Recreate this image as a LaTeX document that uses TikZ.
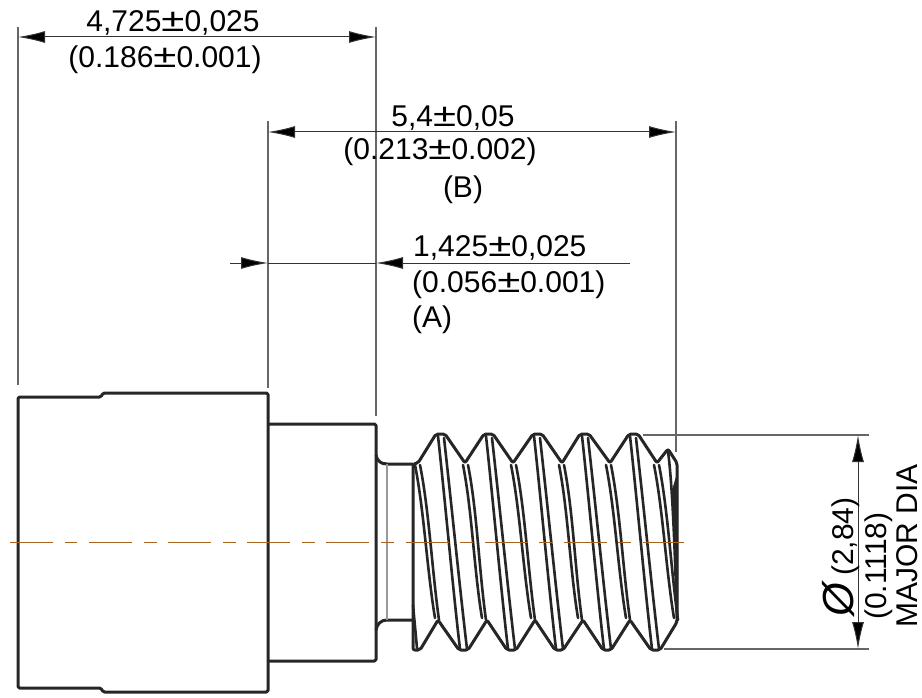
\documentclass[tikz,border=0pt]{standalone}
\usepackage{fontspec}
\setmainfont{Liberation Sans}
\usetikzlibrary{arrows.meta}
\newcommand{\pmbig}{\scalebox{1.4}[1.08]{±}}
\begin{document}
\begin{tikzpicture}[
  x=1pt,y=-1pt,
  partline/.style={line width=3pt,draw=black!85,line join=round},
  threadline/.style={line width=2.6pt,draw=black!85,line cap=round},
  extline/.style={line width=1.1pt,draw=black!60},
  dimline/.style={line width=1pt,draw=black!80},
  dimtip/.style={-{Latex[length=27pt,width=12pt,fill=black]}},
  dimboth/.style={{Latex[length=27pt,width=12pt,fill=black]}-{Latex[length=27pt,width=12pt,fill=black]}},
  dimlabel/.style={font=\fontsize{30}{33}\selectfont,inner sep=0pt,anchor=base},
  ]
  \useasboundingbox (0,0) rectangle (922,698);

  % body and neck
  \draw[partline,rounded corners=1.5pt]
    (101,397) -- (18,397) -- (18,688) -- (101,688) -- (103,692) -- (268,692)
    -- (268,393) -- (103,393) -- cycle;
  \draw[partline,rounded corners=1.5pt]
    (268,424) -- (376,424) -- (376,661) -- (268,661);
  \draw[partline]
    (376,455) .. controls (377,461) and (381,464) .. (387,464) -- (413,464);
  \draw[partline]
    (376,630) .. controls (377,624) and (381,620) .. (387,620) -- (413,620);
  \draw[extline,draw=black!40] (387,464) -- (387,620);

  % thread outline
  \draw[partline,rounded corners=2pt]
    (413,464) -- (413,650) -- (420,650) -- (438,620) -- (459,650) -- (468,650)
    -- (487,620) -- (507,650) -- (516,650) -- (535,620) -- (555,650) -- (563,650)
    -- (583,620) -- (603,650) -- (611,650) -- (630,620) -- (651,650) -- (660,650)
    -- (677,622) -- (677,463) -- (668,449) -- (657,463)
    -- (638,434) -- (629,434) -- (610,463)
    -- (589,434) -- (580,434) -- (562,463)
    -- (542,434) -- (533,434) -- (513,463)
    -- (493,434) -- (484,434) -- (465,463)
    -- (445,434) -- (436,434) -- (418,463) -- cycle;

  % thread turns
  \foreach \cx/\bx in {438/460,486/508,534/556,582/604,630/652}
  {
    \draw[threadline] (\cx,436) .. controls (\cx+7,500) and (\bx-7,590) .. (\bx,649);
    \draw[threadline] (\cx+6,438) .. controls (\cx+13,500) and (\bx,590) .. (\bx+7,649);
  }
  \foreach \rx/\sx in {415/435,463/482,511/531,559/578,606/626,654/674}
  {
    \draw[threadline] (\rx,465) .. controls (\rx+9,510) and (\sx-8,570) .. (\sx,618);
    \draw[threadline] (\rx+5,465) .. controls (\rx+14,510) and (\sx-3,570) .. (\sx+4,620);
  }
  \draw[threadline] (668,451) .. controls (673,490) and (675,560) .. (677,618);
  \fill[black!85] (672,490) .. controls (674,530) and (675,580) .. (676,612)
    -- (678,612) -- (678,470) -- cycle;
  \draw[threadline] (413,605) -- (417,648);

  % center line
  \draw[line width=1pt,draw={rgb,255:red,168;green,101;blue,31},
    dash pattern=on 43pt off 11.7pt on 12.7pt off 11.7pt]
    (10,542) -- (684,542);

  % extension lines
  \draw[extline] (18,27) -- (18,385);
  \draw[extline] (376,27) -- (376,416);
  \draw[extline] (268,121) -- (268,388);
  \draw[extline] (676,121) -- (676,452);
  \draw[extline] (643,435) -- (869,435);
  \draw[extline] (664,649) -- (869,649);

  % dimensions
  \draw[dimline,dimboth] (18,37) -- (376,37);
  \node[dimlabel] (dimTopA) at (173,32) {4,725\pmbig 0,025};
  \node[dimlabel] (dimTopB) at (165,68) {(0.186\pmbig 0.001)};

  \draw[dimline,dimboth] (268,132) -- (676,132);
  \node[dimlabel] (dimMidA) at (453,127) {5,4\pmbig 0,05};
  \node[dimlabel] (dimMidB) at (440,160) {(0.213\pmbig 0.002)};
  \node[dimlabel] (dimMidC) at (463,197) {(B)};

  \draw[dimline,dimtip] (230,263) -- (268,263);
  \draw[dimline] (268,263) -- (376,263);
  \draw[dimline,dimtip] (630,263) -- (376,263);
  \node[dimlabel,anchor=base west] (dimLowA) at (413,257) {1,425\pmbig 0,025};
  \node[dimlabel,anchor=base west] (dimLowB) at (412,292) {(0.056\pmbig 0.001)};
  \node[dimlabel,anchor=base west] (dimLowC) at (412,327) {(A)};

  \draw[dimline,dimboth] (858,435) -- (858,649);
  \node[dimlabel,rotate=90,anchor=base west] (dimDiaA) at (853,617)
    {\scalebox{1.45}{\textit{Ø}}\,(2,84)};
  \node[dimlabel,rotate=90,anchor=base west] (dimDiaB) at (886,620) {(0.1118)};
  \node[dimlabel,rotate=90,anchor=base west] (dimDiaC) at (917,628) {MAJOR DIA};
\end{tikzpicture}
\end{document}
